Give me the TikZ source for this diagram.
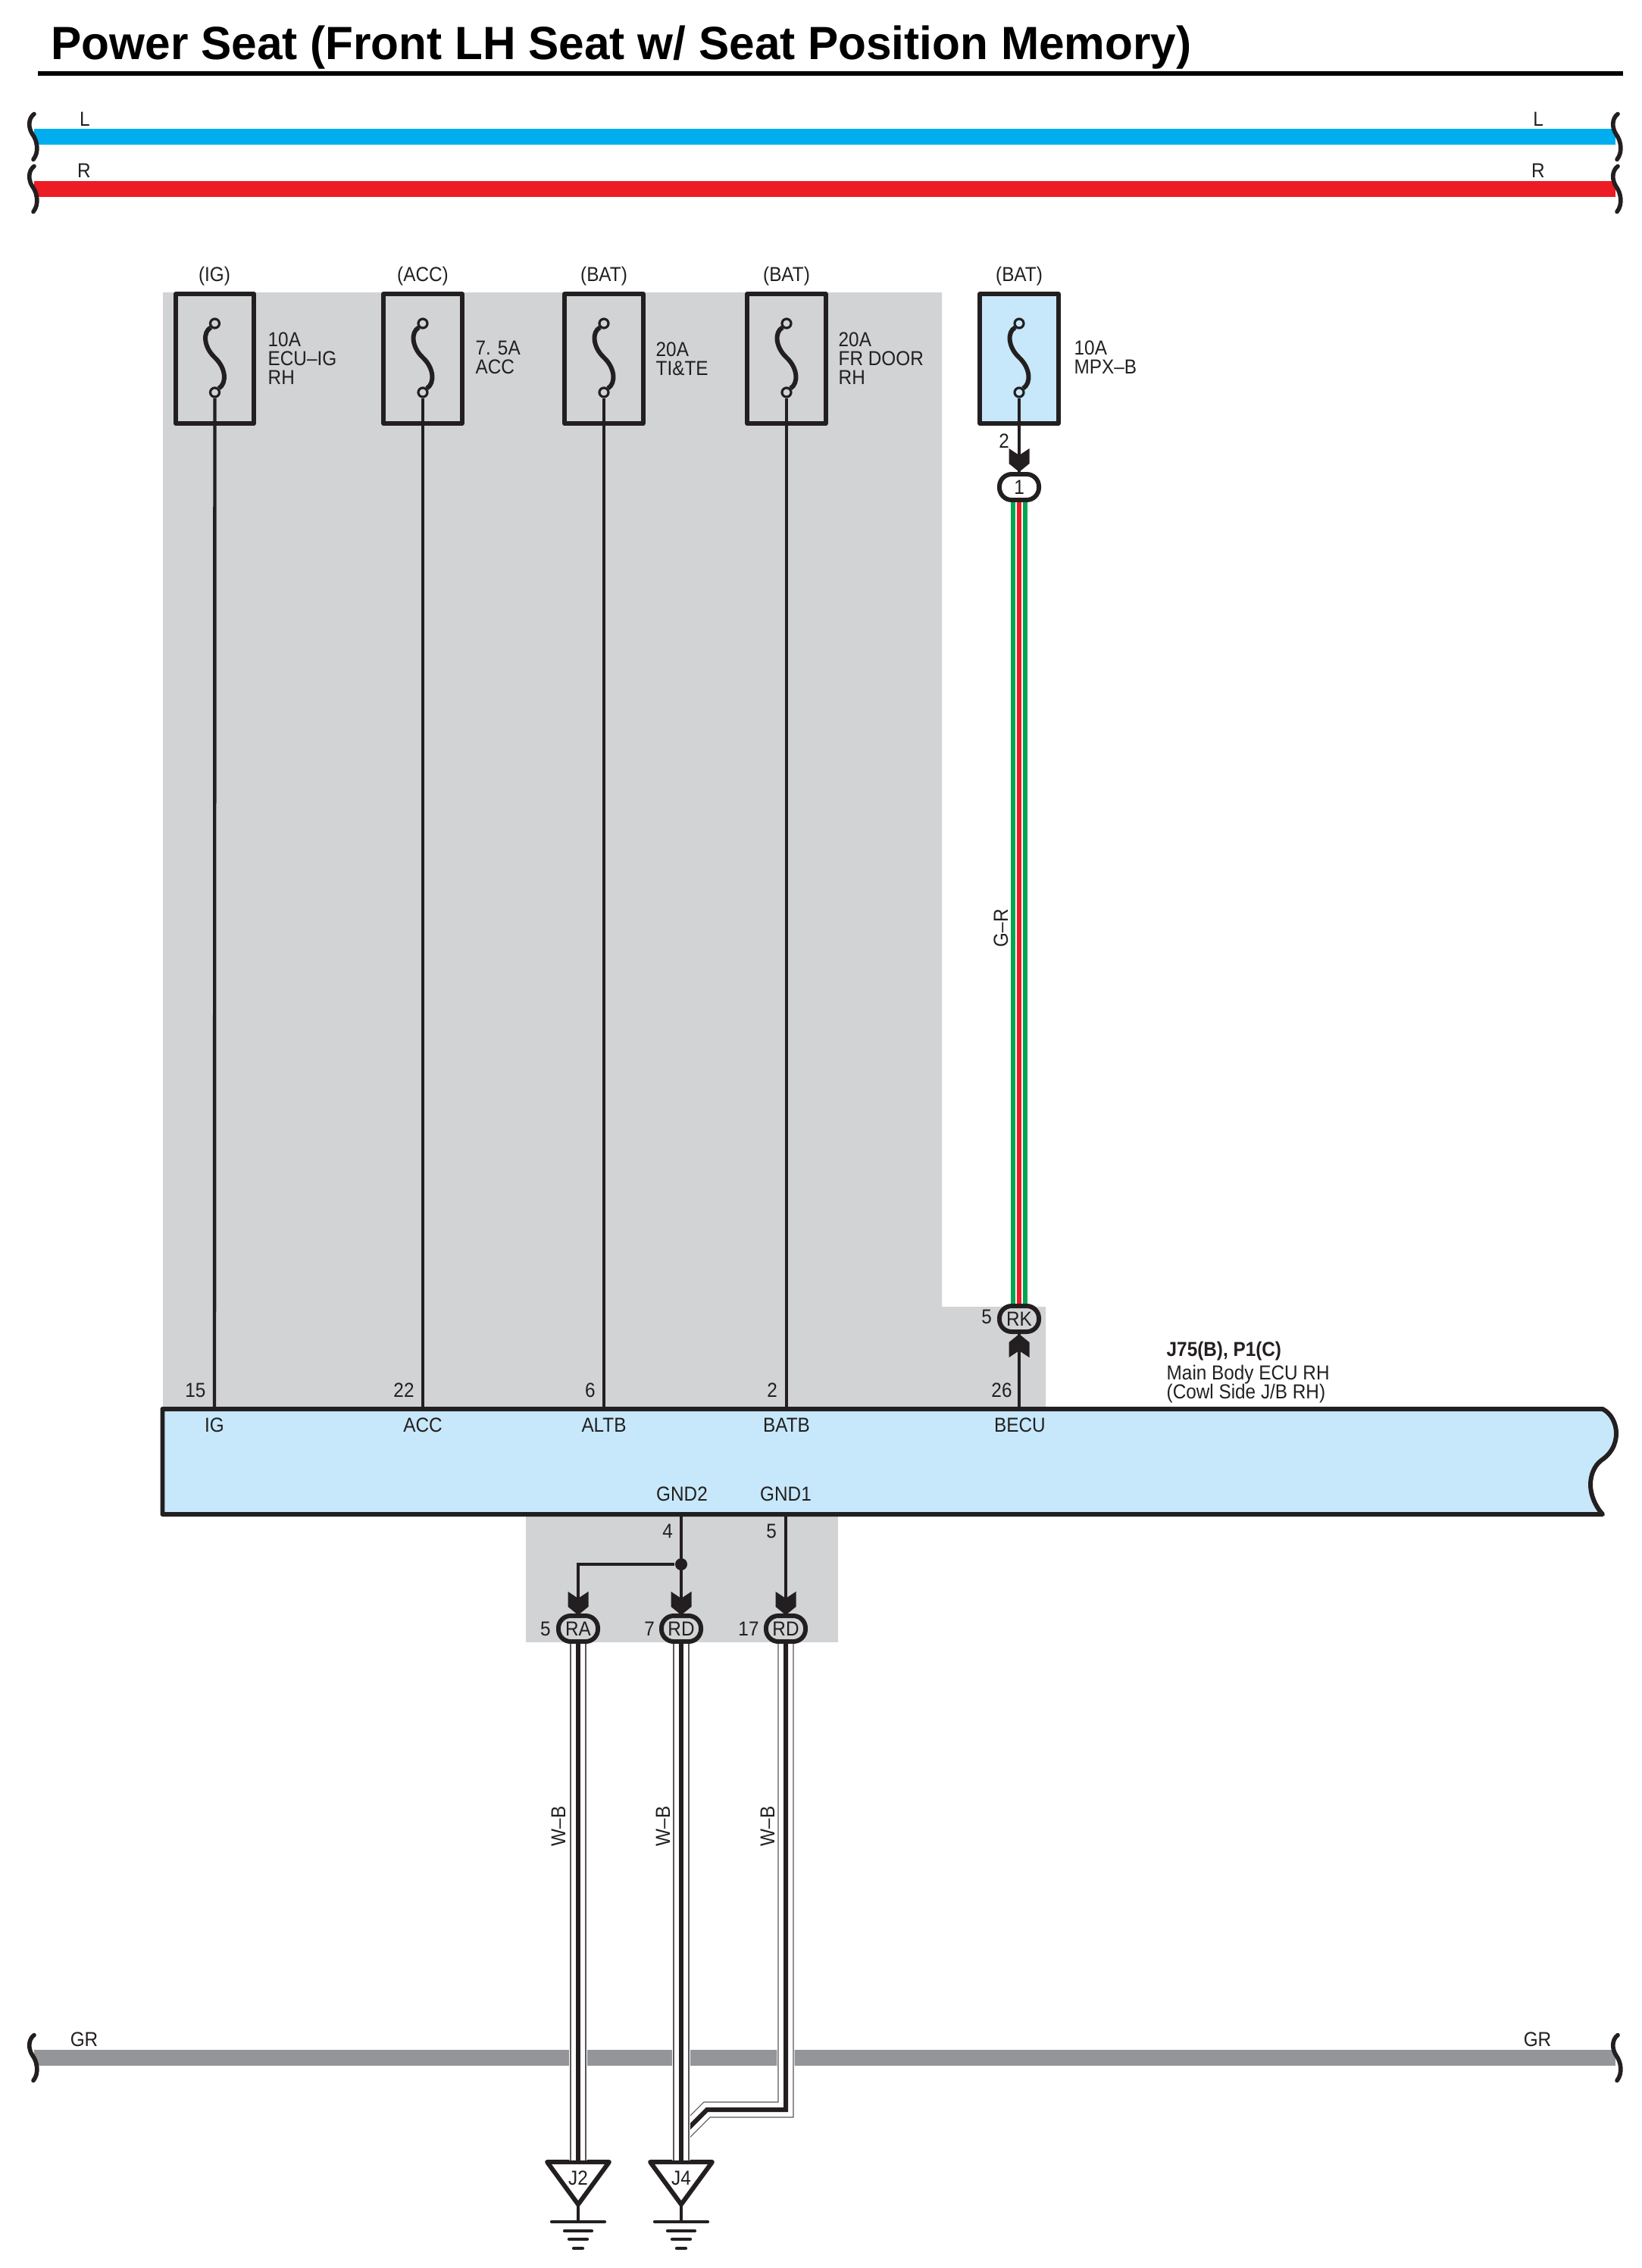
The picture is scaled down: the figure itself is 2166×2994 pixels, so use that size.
\documentclass[tikz,border=0pt]{standalone}
\usepackage{fontspec}
\setmainfont{Liberation Sans}[FakeStretch=0.91]
\newfontfamily\titlefont{Liberation Sans}[FakeStretch=0.98]
\definecolor{ink}{HTML}{231F20}
\definecolor{blockgray}{HTML}{D1D3D4}
\definecolor{ecublue}{HTML}{C7E8FA}
\definecolor{busblue}{HTML}{00AEEF}
\definecolor{busred}{HTML}{ED1C24}
\definecolor{busgray}{HTML}{939598}
\definecolor{wiregreen}{HTML}{00A651}
\tikzset{
  lbl/.style={inner sep=0pt,text=ink,font=\fontsize{7.6}{7.1}\selectfont,align=left},
  wire/.style={draw=ink,line width=1.25pt},
  heavy/.style={draw=ink,line width=1.7pt,line join=round},
  bus/.style={line width=6pt},
  fusecase/.style={heavy,minimum width=1.03cm,minimum height=1.71cm,inner sep=0pt},
  fuselink/.style={circle,draw=ink,line width=0.9pt,minimum size=0.12cm,inner sep=0pt},
  conn/.style={lbl,heavy,rounded corners=4.6pt,minimum width=0.52cm,minimum height=0.34cm},
  whiteblack/.style={preaction={draw=white,line width=6.6pt},preaction={draw=ink!75,line width=6pt},
    preaction={draw=white,line width=5.3pt},draw=ink,line width=1.7pt},
  greenred/.style={preaction={draw=wiregreen,line width=6pt},preaction={draw=white,line width=2.6pt},
    draw=busred,line width=1.9pt},
  chev/.pic={\fill[ink] (0,0) -- (-13.5,-11) -- (-13.5,-31) -- (0,-22) -- (13.5,-31) -- (13.5,-11) -- cycle;},
  brk/.pic={\draw[ink,line width=1.6pt,line cap=round] (1,-30) .. controls (-7,-24) and (-7,-12) .. (-1,-3)
    .. controls (5,5) and (8,20) .. (0,30);},
}
% fuse: name, x, fill
\newcommand{\fusebox}[3]{
  \node[fusecase,fill=#3] (#1) at (#2,473.5) {};
  \node[fuselink,fill=#3] (#1t) at (#2,427) {};
  \node[fuselink,fill=#3] (#1b) at (#2,518) {};
  \draw[heavy] (#1t.225) .. controls (#2-16,438) and (#2-15,458) .. (#2,472)
    .. controls (#2+15,486) and (#2+16,506) .. (#1b.45);
}
% ground: name, x, text
\newcommand{\gndmark}[3]{
  \coordinate (#1) at (#2,2852);
  \draw[heavy] (#2-41,2854) -- (#2+41,2854) -- (#2,2910) -- cycle;
  \node[lbl] (#1t) at (#2,2875) {#3};
  \draw[wire] (#2,2910) -- (#2,2933);
  \draw[heavy,line width=1.2pt,line cap=round] (#2-35,2933) -- (#2+35,2933);
  \draw[heavy,line width=1.2pt,line cap=round] (#2-18,2945) -- (#2+18,2945);
  \draw[heavy,line width=1.2pt,line cap=round] (#2-12,2956) -- (#2+12,2956);
  \draw[heavy,line width=1.2pt,line cap=round] (#2-6,2968) -- (#2+6,2968);
}
\begin{document}
\begin{tikzpicture}[x=0.01cm,y=-0.01cm]
\useasboundingbox (0,0) rectangle (2166,2994);

\node[anchor=base west,inner sep=0pt,text=black,font=\titlefont\fontsize{17.5}{20}\selectfont\bfseries] (title) at (67,79) {Power Seat (Front LH Seat w/ Seat Position Memory)};
\draw[black,line width=1.6pt] (50,97) -- (2142,97);

% grey blocks
\fill[blockgray] (215,386) -- (1243,386) -- (1243,1725) -- (1380,1725) -- (1380,1862) -- (215,1862) -- cycle;
\fill[blockgray] (694,1998) rectangle (1106,2168);

% buses
\draw[bus,busblue] (45,180.5) -- (2132,180.5);
\draw[bus,busred] (45,249.5) -- (2132,249.5);
\draw[bus,busgray] (45,2716.5) -- (2132,2716.5);
\pic at (44,180.5) {brk};
\pic at (44,249.5) {brk};
\pic at (44,2716.5) {brk};
\pic at (2134,180.5) {brk};
\pic at (2134,249.5) {brk};
\pic at (2134,2716.5) {brk};
\node[lbl] (busll) at (112,157) {L};
\node[lbl] (buslr) at (2030,157) {L};
\node[lbl] (busrl) at (111,225) {R};
\node[lbl] (busrr) at (2030,225) {R};
\node[lbl] (busgl) at (111,2692) {GR};
\node[lbl] (busgr) at (2029,2692) {GR};

% ECU
\draw[heavy,fill=ecublue] (214.5,1860) -- (2115,1860) .. controls (2127,1866) and (2133,1880) .. (2133,1892)
  .. controls (2133,1908) and (2125,1920) .. (2113,1928) .. controls (2104,1935) and (2099,1947) .. (2099,1960)
  .. controls (2099,1973) and (2105,1988) .. (2115,1999) -- (214.5,1999) -- cycle;
\coordinate (pig) at (283,1860);
\coordinate (pacc) at (558,1860);
\coordinate (paltb) at (797,1860);
\coordinate (pbatb) at (1038,1860);
\coordinate (pbecu) at (1345,1860);
\coordinate (pgnda) at (899,1999);
\coordinate (pgndb) at (1037,1999);

\node[lbl] (nig) at (283,1881) {IG};
\node[lbl] (nacc) at (558,1881) {ACC};
\node[lbl] (naltb) at (797,1881) {ALTB};
\node[lbl] (nbatb) at (1038,1881) {BATB};
\node[lbl] (nbecu) at (1346,1881) {BECU};
\node[lbl] (ngnda) at (900,1972) {GND2};
\node[lbl] (ngndb) at (1037,1972) {GND1};
\node[lbl] (nig2) at (258,1835) {15};
\node[lbl] (nacc2) at (533,1835) {22};
\node[lbl] (naltb2) at (779,1835) {6};
\node[lbl] (nbatb2) at (1019,1835) {2};
\node[lbl] (nbecu2) at (1322,1835) {26};
\node[lbl,anchor=west] (ecuname) at (1539,1784) {\bfseries J75(B), P1(C)};
\node[lbl,anchor=north west] (ecutext) at (1539,1801) {Main Body ECU RH\\(Cowl Side J/B RH)};

% fuses
\fusebox{figr}{283.5}{blockgray}
\fusebox{facc}{558}{blockgray}
\fusebox{ftit}{797}{blockgray}
\fusebox{ffr}{1038}{blockgray}
\fusebox{fmpx}{1345}{ecublue}
\node[lbl] (sig) at (283,365) {(IG)};
\node[lbl] (sacc) at (558,365) {(ACC)};
\node[lbl] (stit) at (797,365) {(BAT)};
\node[lbl] (sfr) at (1038,365) {(BAT)};
\node[lbl] (smpx) at (1345,365) {(BAT)};
\node[lbl,anchor=west] (tig) at (353,473) {10A\\ECU--IG\\RH};
\node[lbl,anchor=west] (tacc) at (627,472) {7. 5A\\ACC};
\node[lbl,anchor=west] (ttit) at (865,474) {20A\\TI\&TE};
\node[lbl,anchor=west] (tfr) at (1106,473) {20A\\FR DOOR\\RH};
\node[lbl,anchor=west] (tmpx) at (1417,472) {10A\\MPX--B};

% connectors
\node[conn,fill=white] (cmpx) at (1345,643) {1};
\node[conn,fill=blockgray] (crk) at (1345,1741) {RK};
\node[conn,fill=blockgray] (cra) at (763,2150) {RA};
\node[conn,fill=blockgray] (crd) at (899,2150) {RD};
\node[conn,fill=blockgray] (crdb) at (1037,2150) {RD};
\node[lbl] (nmpx) at (1325,582) {2};
\node[lbl] (nrk) at (1302,1738) {5};
\node[lbl] (nra) at (720,2150) {5};
\node[lbl] (nrd) at (857,2150) {7};
\node[lbl] (nrdb) at (988,2150) {17};
\node[lbl] (ngnd4) at (881,2021) {4};
\node[lbl] (ngnd5) at (1018,2021) {5};

% power wires
\draw[wire] (figrb) -- (pig);
\draw[wire] (faccb) -- (pacc);
\draw[wire] (ftitb) -- (paltb);
\draw[wire] (ffrb) -- (pbatb);
\draw[wire] (fmpxb) -- (cmpx);
\draw[wire] (pbecu) -- (crk);
\draw[greenred] (cmpx) -- (crk);
\node[lbl,rotate=90] (lgr) at (1321,1225) {G--R};
\pic at (1345,623) {chev};
\pic[rotate=180] at (1345,1761) {chev};

% ground wires
\node[circle,fill=ink,minimum size=0.16cm,inner sep=0pt] (dot) at (899,2065) {};
\draw[wire] (pgnda) -- (crd);
\draw[wire] (dot) -| (cra);
\draw[wire] (pgndb) -- (crdb);
\pic at (763,2132) {chev};
\pic at (899,2132) {chev};
\pic at (1037,2132) {chev};
\gndmark{gja}{763}{J2}
\gndmark{gjb}{899}{J4}
\coordinate (joint) at (899,2819);
\draw[whiteblack] (crdb) -- (1037,2785) -- (933,2785) -- (joint);
\draw[whiteblack] (cra) -- (gja);
\draw[whiteblack] (crd) -- (gjb);
\node[lbl,rotate=90] (lwa) at (737,2411) {W--B};
\node[lbl,rotate=90] (lwb) at (875,2411) {W--B};
\node[lbl,rotate=90] (lwc) at (1013,2411) {W--B};
\end{tikzpicture}
\end{document}
